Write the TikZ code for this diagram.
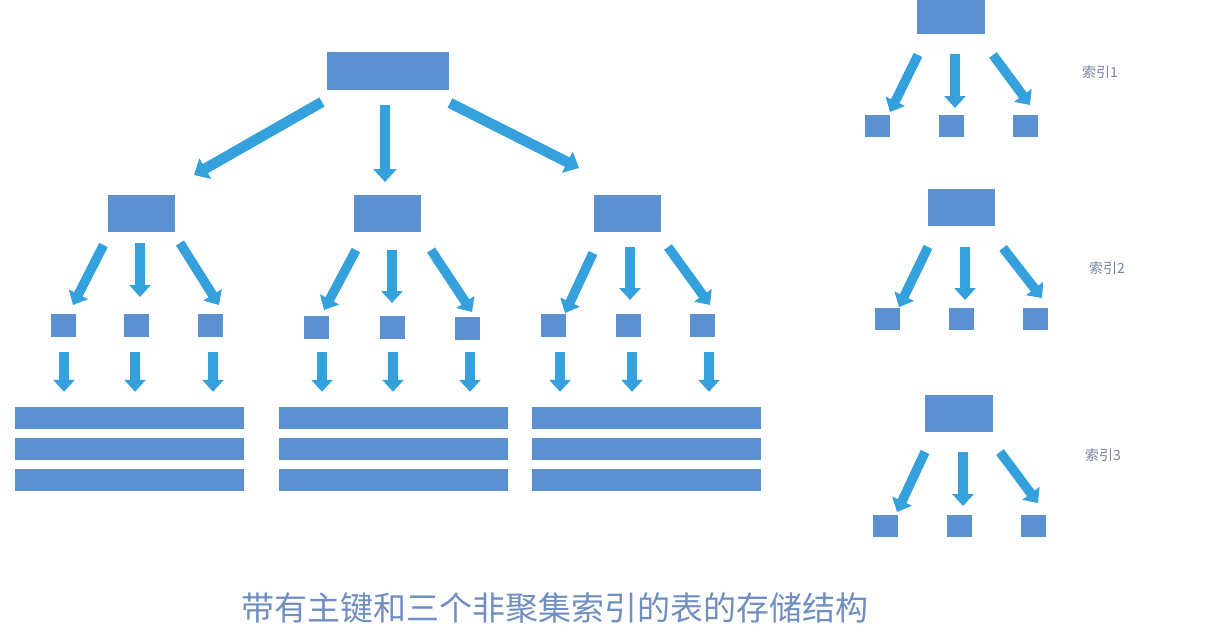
\documentclass[tikz,border=0pt]{standalone}
\usepackage{fontspec}
\newfontfamily\cjk{Noto Sans CJK SC}
\usetikzlibrary{arrows.meta,calc}
\definecolor{boxc}{RGB}{92,144,208}
\definecolor{arrc}{RGB}{52,160,220}
\definecolor{capc}{RGB}{112,143,192}
\definecolor{labc}{RGB}{120,134,160}
\tikzset{
  blk/.style={fill=boxc,draw=none,inner sep=0pt,minimum width=#1},
  bigbox/.style={blk=122pt,minimum height=38pt},
  midbox/.style={blk=67pt,minimum height=37pt},
  leaf/.style={blk=25pt,minimum height=23pt},
  rowbox/.style={blk=229pt,minimum height=22pt},
  arr/.style={draw=arrc,line width=9.5pt,-{Triangle[width=21pt,length=12pt]}},
  bigarr/.style={draw=arrc,line width=10.5pt,-{Triangle[width=23pt,length=13pt]}},
  lab/.style={text=labc,font=\cjk\fontsize{14pt}{16pt}\selectfont,inner sep=0pt},
  captext/.style={text=capc,font=\cjk\fontsize{33pt}{36pt}\selectfont,inner sep=0pt}
}
\begin{document}
\begin{tikzpicture}[x=1pt,y=-1pt]
\useasboundingbox[fill=white] (0,0) rectangle (1228,642);
% main tree
\node[bigbox] (root) at (388,71) {};
\node[midbox] (pa) at (141.5,213.5) {};
\node[midbox] (pb) at (387.5,213.5) {};
\node[midbox] (pc) at (627.5,213.5) {};
\node[leaf] (a1) at (63,325.5) {};
\node[leaf] (a2) at (136,325.5) {};
\node[leaf] (a3) at (210.5,325.5) {};
\node[leaf] (b1) at (316.5,327) {};
\node[leaf] (b2) at (392,327) {};
\node[leaf] (b3) at (467.5,328) {};
\node[leaf] (c1) at (553.5,325.5) {};
\node[leaf] (c2) at (628.5,325.5) {};
\node[leaf] (c3) at (702,325.5) {};
\foreach \g/\cx in {A/129.5,B/393,C/646}{
  \node[rowbox] (r\g1) at (\cx,418) {};
  \node[rowbox] (r\g2) at (\cx,449) {};
  \node[rowbox] (r\g3) at (\cx,480) {};
}
\draw[bigarr] ([shift={(-66,31)}]root.center) -- ([shift={(52.5,-38.5)}]pa.center);
\draw[bigarr] ([shift={(-3,34)}]root.center) -- ([shift={(-2.5,-31.5)}]pb.center);
\draw[bigarr] ([shift={(62,32)}]root.center) -- ([shift={(-48.5,-45.5)}]pc.center);
% level 2 -> leaves
\draw[arr] ([shift={(-38,31.5)}]pa.center) -- ([shift={(10,-20.5)}]a1.center);
\draw[arr] ([shift={(-1.5,29.5)}]pa.center) -- ([shift={(4,-28.5)}]a2.center);
\draw[arr] ([shift={(38.5,29.5)}]pa.center) -- ([shift={(8.5,-20.5)}]a3.center);
\draw[arr] ([shift={(-31.5,36.5)}]pb.center) -- ([shift={(7.5,-17)}]b1.center);
\draw[arr] ([shift={(4.5,36.5)}]pb.center) -- ([shift={(0,-24)}]b2.center);
\draw[arr] ([shift={(43.5,36.5)}]pb.center) -- ([shift={(4.5,-16)}]b3.center);
\draw[arr] ([shift={(-34.5,39.5)}]pc.center) -- ([shift={(11.5,-12.5)}]c1.center);
\draw[arr] ([shift={(2.5,33.5)}]pc.center) -- ([shift={(1.5,-25.5)}]c2.center);
\draw[arr] ([shift={(40.5,33.5)}]pc.center) -- ([shift={(8,-20.5)}]c3.center);
% leaves -> rows
\foreach \l/\r/\dx in {a1/A/1,a2/A/-1,a3/A/2.5,b1/B/5.5,b2/B/1,b3/B/2.5,c1/C/6.5,c2/C/3.5,c3/C/7}{
  \draw[arr] ($(\l.center |- 0,352)+(\dx,0)$) -- ($(\l.center |- r\r1.north)+(\dx,-15)$);
}
% index 1
\node[midbox,minimum width=68pt] (i1) at (951,15.5) {};
\node[leaf,minimum height=22pt] (i1a) at (877.5,126) {};
\node[leaf,minimum height=22pt] (i1b) at (951.5,126) {};
\node[leaf,minimum height=22pt] (i1c) at (1025,126) {};
\draw[arr] ([shift={(-33,39.5)}]i1.center) -- ([shift={(12.5,-14)}]i1a.center);
\draw[arr] ([shift={(4,38.5)}]i1.center) -- ([shift={(3.5,-18)}]i1b.center);
\draw[arr] ([shift={(42,39.5)}]i1.center) -- ([shift={(5,-21)}]i1c.center);
\node[lab] (l1) at (1100,72) {索引1};
% index 2
\node[midbox] (i2) at (961.5,207.5) {};
\node[leaf,minimum height=22pt] (i2a) at (887.5,319) {};
\node[leaf,minimum height=22pt] (i2b) at (961.5,319) {};
\node[leaf,minimum height=22pt] (i2c) at (1035.5,319) {};
\draw[arr] ([shift={(-33.5,39.5)}]i2.center) -- ([shift={(11.5,-12)}]i2a.center);
\draw[arr] ([shift={(3.5,39.5)}]i2.center) -- ([shift={(3.5,-19)}]i2b.center);
\draw[arr] ([shift={(41.5,40.5)}]i2.center) -- ([shift={(6.5,-21)}]i2c.center);
\node[lab] (l2) at (1107,268) {索引2};
% index 3
\node[midbox,minimum width=68pt] (i3) at (959,413.5) {};
\node[leaf,minimum height=22pt] (i3a) at (885,526) {};
\node[leaf,minimum height=22pt] (i3b) at (959,526) {};
\node[leaf,minimum height=22pt] (i3c) at (1033,526) {};
\draw[arr] ([shift={(-34,38.5)}]i3.center) -- ([shift={(12,-14)}]i3a.center);
\draw[arr] ([shift={(4,38.5)}]i3.center) -- ([shift={(4,-20)}]i3b.center);
\draw[arr] ([shift={(41,38.5)}]i3.center) -- ([shift={(5,-23)}]i3c.center);
\node[lab] (l3) at (1103,455) {索引3};
% caption
\node[captext] (title) at (555,608) {带有主键和三个非聚集索引的表的存储结构};
\end{tikzpicture}
\end{document}
